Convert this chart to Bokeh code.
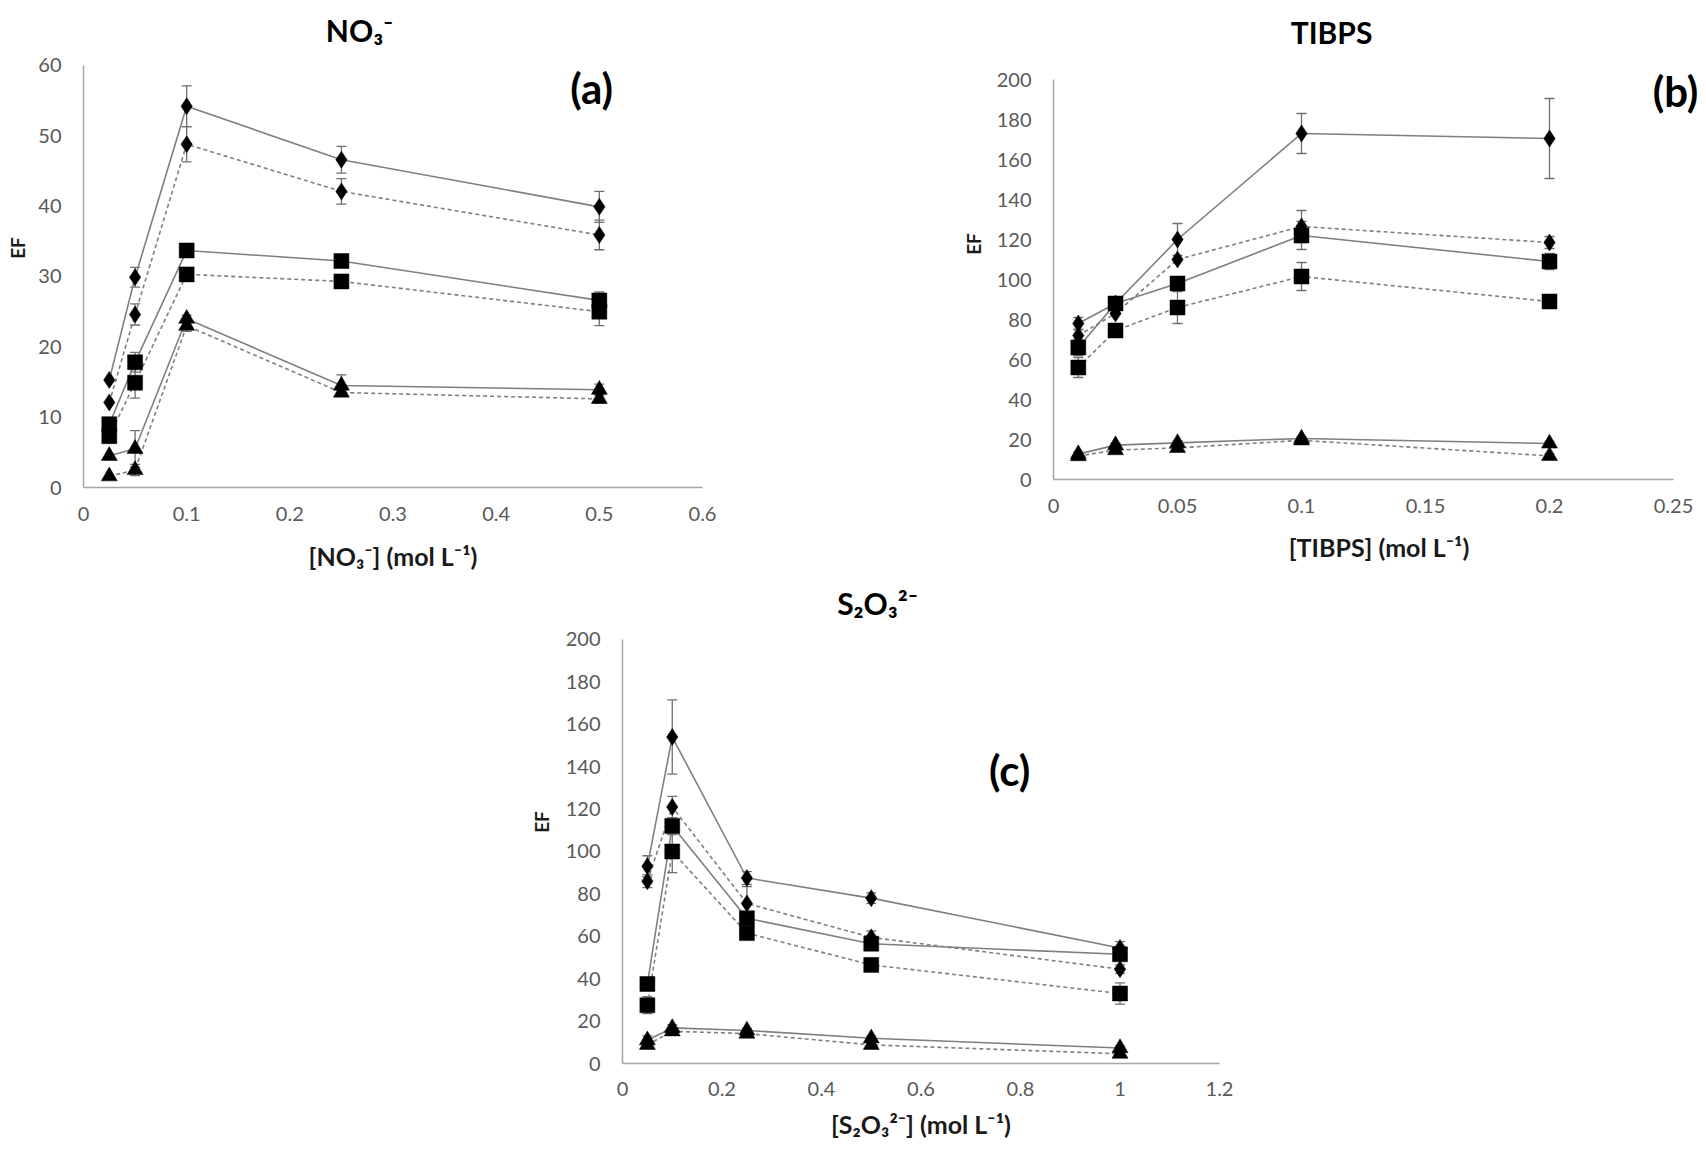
from bokeh.plotting import figure
from bokeh.layouts import column, row
from bokeh.models import (Range1d, FixedTicker, Label, Whisker, TeeHead,
                          ColumnDataSource, Spacer)
from bokeh.embed import file_html
from bokeh.resources import INLINE

# ---------------- data ----------------
# Panel (a): NO3-
x_a = [0.025, 0.05, 0.1, 0.25, 0.5]
a_dia_solid = [15.3, 29.9, 54.2, 46.6, 39.9]
a_dia_solid_err = [0, 1.4, 2.9, 1.9, 2.2]
a_dia_dash = [12.1, 24.6, 48.8, 42.1, 35.9]
a_dia_dash_err = [0, 1.5, 2.5, 1.8, 2.1]
a_sq_solid = [9.0, 17.8, 33.7, 32.2, 26.6]
a_sq_solid_err = [0, 1.4, 0, 0.5, 1.2]
a_sq_dash = [7.3, 14.9, 30.3, 29.3, 25.0]
a_sq_dash_err = [0, 2.2, 0, 0.5, 2.0]
a_tri_solid = [4.5, 5.5, 24.0, 14.5, 13.9]
a_tri_solid_err = [0, 2.6, 0.5, 1.5, 0.8]
a_tri_dash = [1.6, 2.5, 23.0, 13.5, 12.6]
a_tri_dash_err = [0, 0.8, 0.8, 0, 0.6]
a_xticks = [0, 0.1, 0.2, 0.3, 0.4, 0.5, 0.6]
a_xtick_labels = ["0", "0.1", "0.2", "0.3", "0.4", "0.5", "0.6"]
a_yticks = [0, 10, 20, 30, 40, 50, 60]

# Panel (b): TIBPS
x_b = [0.01, 0.025, 0.05, 0.1, 0.2]
b_dia_solid = [78, 88, 120, 173, 170.5]
b_dia_solid_err = [3, 0, 8, 10, 20]
b_dia_dash = [72, 83, 110, 126.5, 118.5]
b_dia_dash_err = [3, 0, 0, 8, 3]
b_sq_solid = [66, 88, 98, 122, 109]
b_sq_solid_err = [4, 0, 0, 7, 4]
b_sq_dash = [56, 74.5, 86, 101.5, 89]
b_sq_dash_err = [5, 0, 8, 7, 3]
b_tri_solid = [12.7, 17.2, 18.3, 20.5, 18.0]
b_tri_solid_err = [1, 1, 1, 1, 1]
b_tri_dash = [11.7, 14.7, 15.8, 19.6, 11.8]
b_tri_dash_err = [1, 1, 1, 1, 1]
b_xticks = [0, 0.05, 0.1, 0.15, 0.2, 0.25]
b_xtick_labels = ["0", "0.05", "0.1", "0.15", "0.2", "0.25"]
b_yticks = [0, 20, 40, 60, 80, 100, 120, 140, 160, 180, 200]

# Panel (c): S2O3 2-
x_c = [0.05, 0.1, 0.25, 0.5, 1.0]
c_dia_solid = [93, 154, 87.5, 78, 54.5]
c_dia_solid_err = [5, 17.5, 3, 2.5, 3]
c_dia_dash = [86, 121, 75.5, 59.5, 44.5]
c_dia_dash_err = [3, 5, 8, 3, 2]
c_sq_solid = [37.5, 112, 68.5, 56.5, 51.5]
c_sq_solid_err = [0, 4, 0, 0, 3]
c_sq_dash = [27.5, 100, 61.5, 46.5, 33]
c_sq_dash_err = [4, 10, 0, 0, 5]
c_tri_solid = [11, 16.8, 15.6, 11.9, 7.3]
c_tri_solid_err = [2, 1.5, 1, 1, 1]
c_tri_dash = [8.8, 15.2, 14.1, 8.8, 4.6]
c_tri_dash_err = [1, 1, 1, 1, 1]
c_xticks = [0, 0.2, 0.4, 0.6, 0.8, 1.0, 1.2]
c_xtick_labels = ["0", "0.2", "0.4", "0.6", "0.8", "1", "1.2"]
c_yticks = [0, 20, 40, 60, 80, 100, 120, 140, 160, 180, 200]

FONT = "Lato"
LINE_COLOR = "#7f7f7f"
ERR_COLOR = "#6f6f6f"
AXIS_COLOR = "#a6a6a6"
TICK_COLOR = "#595959"


def make_panel(xs, series, x_bounds, x_rng, y_bounds, y_rng, xticks,
               xtick_labels, yticks, x_label, size, border, stand,
               title, title_xy, tag, tag_xy):
    l, r, t, b = border
    p = figure(width=size[0], height=size[1],
               min_border_left=l, min_border_right=r,
               min_border_top=t, min_border_bottom=b,
               x_range=Range1d(*x_rng), y_range=Range1d(*y_rng),
               output_backend="svg", toolbar_location=None, tools="")
    p.outline_line_color = None
    p.xgrid.visible = False
    p.ygrid.visible = False
    p.background_fill_color = "white"
    p.border_fill_color = "white"

    for ax in (p.xaxis[0], p.yaxis[0]):
        ax.axis_line_color = AXIS_COLOR
        ax.axis_line_width = 1.5
        ax.major_tick_line_color = None
        ax.minor_tick_line_color = None
        ax.major_tick_out = 0
        ax.major_tick_in = 0
        ax.minor_tick_out = 0
        ax.major_label_text_font = FONT
        ax.major_label_text_font_size = "20px"
        ax.major_label_text_color = TICK_COLOR
        ax.axis_label_text_font = FONT
        ax.axis_label_text_font_style = "bold"
        ax.axis_label_text_color = "#1a1a1a"
    p.xaxis.axis_label_text_font_size = "25px"
    p.yaxis.axis_label_text_font_size = "19px"

    p.xaxis.bounds = x_bounds
    p.yaxis.bounds = y_bounds
    p.xaxis.ticker = FixedTicker(ticks=xticks)
    p.xaxis.major_label_overrides = {t_: s for t_, s in zip(xticks, xtick_labels)}
    p.yaxis.ticker = FixedTicker(ticks=yticks)
    p.yaxis.major_label_overrides = {t_: str(v) for t_, v in zip(yticks, yticks)}
    p.xaxis.major_label_standoff = stand[0]
    p.xaxis.axis_label = x_label
    p.xaxis.axis_label_standoff = stand[1]
    p.yaxis.major_label_standoff = stand[2]
    p.yaxis.axis_label = "EF"
    p.yaxis.axis_label_standoff = stand[3]

    # lines
    for ys, err, marker, dashed in series:
        p.line(xs, ys, line_color=LINE_COLOR, line_width=1.6,
               line_dash="4 3" if dashed else "solid")
    # error bars
    for ys, err, marker, dashed in series:
        px = [x for x, e in zip(xs, err) if e > 0]
        up = [y + e for y, e in zip(ys, err) if e > 0]
        lo = [y - e for y, e in zip(ys, err) if e > 0]
        if not px:
            continue
        src = ColumnDataSource(dict(x=px, upper=up, lower=lo))
        w = Whisker(source=src, base="x", upper="upper", lower="lower",
                    line_color=ERR_COLOR, line_width=1.3, level="underlay",
                    upper_head=TeeHead(size=10, line_color=ERR_COLOR, line_width=1.3),
                    lower_head=TeeHead(size=10, line_color=ERR_COLOR, line_width=1.3))
        p.add_layout(w)
    # markers
    for ys, err, marker, dashed in series:
        msize = {"diamond": 17, "square": 15, "triangle": 16}[marker]
        p.scatter(xs, ys, marker=marker, size=msize, fill_color="black",
                  line_color="black", line_width=0.5)

    p.add_layout(Label(x=title_xy[0], y=title_xy[1], text=title,
                       text_font=FONT, text_font_style="bold",
                       text_font_size="30px", text_color="black",
                       text_align="center", text_baseline="alphabetic"))
    p.add_layout(Label(x=tag_xy[0], y=tag_xy[1], text=tag,
                       text_font=FONT, text_font_style="bold",
                       text_font_size="42px", text_color="black",
                       text_align="center", text_baseline="middle"))
    return p


series_a = [(a_dia_solid, a_dia_solid_err, "diamond", False),
            (a_dia_dash, a_dia_dash_err, "diamond", True),
            (a_sq_solid, a_sq_solid_err, "square", False),
            (a_sq_dash, a_sq_dash_err, "square", True),
            (a_tri_solid, a_tri_solid_err, "triangle", False),
            (a_tri_dash, a_tri_dash_err, "triangle", True)]
series_b = [(b_dia_solid, b_dia_solid_err, "diamond", False),
            (b_dia_dash, b_dia_dash_err, "diamond", True),
            (b_sq_solid, b_sq_solid_err, "square", False),
            (b_sq_dash, b_sq_dash_err, "square", True),
            (b_tri_solid, b_tri_solid_err, "triangle", False),
            (b_tri_dash, b_tri_dash_err, "triangle", True)]
series_c = [(c_dia_solid, c_dia_solid_err, "diamond", False),
            (c_dia_dash, c_dia_dash_err, "diamond", True),
            (c_sq_solid, c_sq_solid_err, "square", False),
            (c_sq_dash, c_sq_dash_err, "square", True),
            (c_tri_solid, c_tri_solid_err, "triangle", False),
            (c_tri_dash, c_tri_dash_err, "triangle", True)]

# (a): frame x 83..702 px (0..0.6); frame y 8..487 px, y=60 at 65 px
pa = make_panel(x_a, series_a, (0, 0.6), (0, 0.6), (0, 60), (0, 68.10),
                a_xticks, a_xtick_labels, a_yticks,
                "[NO\u2083\u207b] (mol L\u207b\u00b9)",
                size=(760, 580), border=(83, 58, 8, 93), stand=(19, 17, 22, 6),
                title="NO\u2083\u207b", title_xy=(0.2675, 65.0),
                tag="(a)", tag_xy=(0.4925, 56.8))
# (b): frame x 1053..1704 px (0.25 at 1673); frame y 8..479 px, y=200 at 79 px
pb = make_panel(x_b, series_b, (0, 0.25), (0, 0.2625), (0, 200), (0, 235.5),
                b_xticks, b_xtick_labels, b_yticks,
                "[TIBPS] (mol L\u207b\u00b9)",
                size=(944, 572), border=(293, 0, 8, 93), stand=(19, 16, 22, 9),
                title="TIBPS", title_xy=(0.1121, 224),
                tag="(b)", tag_xy=(0.2508, 194.5))
# (c): frame x 622..1219 px (0..1.2); frame y 580..1063 px, y=200 at 639 px
pc = make_panel(x_c, series_c, (0, 1.2), (0, 1.2), (0, 200), (0, 227.83),
                c_xticks, c_xtick_labels, c_yticks,
                "[S\u2082O\u2083\u00b2\u207b] (mol L\u207b\u00b9)",
                size=(779, 569), border=(142, 40, 0, 86), stand=(18, 10, 22, 10),
                title="S\u2082O\u2083\u00b2\u207b", title_xy=(0.5126, 217),
                tag="(c)", tag_xy=(0.778, 138.3))

layout = column(row(pa, pb), row(Spacer(width=480, height=10), pc))

with open("out.html", "w") as f:
    f.write(file_html(layout, INLINE))
